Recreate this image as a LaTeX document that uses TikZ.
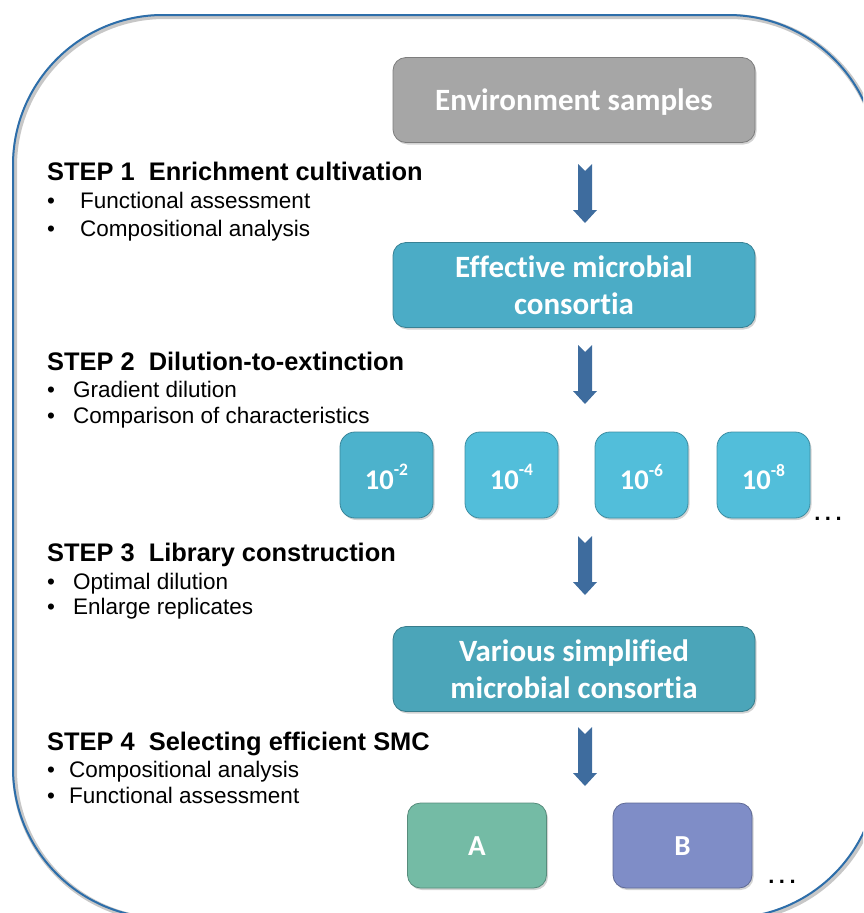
\documentclass[tikz,border=0pt]{standalone}
\usepackage{fontspec}
\setmainfont{Liberation Sans}
\newfontfamily\boxfont[Ligatures=NoCommon]{Carlito}
\usetikzlibrary{shadows}
\definecolor{framec}{RGB}{45,110,170}
\definecolor{arrowc}{RGB}{62,108,158}
\definecolor{envgray}{RGB}{166,166,166}
\definecolor{effc}{RGB}{75,172,198}
\definecolor{dilc}{RGB}{82,190,218}
\definecolor{dilfirst}{RGB}{76,178,204}
\definecolor{varc}{RGB}{75,165,185}
\definecolor{ac}{RGB}{116,187,165}
\definecolor{bc}{RGB}{127,141,199}
\tikzset{
  boxstyle/.style={rounded corners=13pt, draw=#1!75!black, line width=0.8pt, fill=#1,
    text=white, font=\boxfont\bfseries\fontsize{31}{37}\selectfont, align=center,
    inner sep=0pt, drop shadow={opacity=0.35, shadow xshift=1.5pt, shadow yshift=-2pt}},
  bigbox/.style={boxstyle=#1, minimum width=362pt, minimum height=85pt},
  dilbox/.style={boxstyle=#1, rounded corners=15pt, minimum width=93pt, minimum height=86pt,
    font=\boxfont\bfseries\fontsize{28.5}{32}\selectfont},
  selbox/.style={boxstyle=#1, minimum width=139pt, minimum height=85pt,
    font=\boxfont\bfseries\fontsize{29}{32}\selectfont},
  steptitle/.style={anchor=base west, inner sep=0pt, font=\bfseries\fontsize{25.4}{30}\selectfont},
  stepitem/.style={anchor=base west, inner sep=0pt, font=\fontsize{22.5}{27}\selectfont},
  dotsstyle/.style={anchor=base, inner sep=0pt, font=\bfseries\fontsize{22}{24}\selectfont},
  downarr/.pic={\fill[arrowc] (-7,0) -- (0,7) -- (7,0) -- (7,46) -- (12,46) -- (0,59) -- (-12,46) -- (-7,46) -- cycle;}
}
\newcommand{\dilabel}[1]{\raisebox{-2pt}[\height][\depth]{10\raisebox{0.48em}{\fontsize{17.5}{20}\selectfont #1}}}
\newcommand{\threedots}{.\hspace{4.5pt}.\hspace{4.5pt}.}
\newcommand{\lowered}[1]{\raisebox{-3.5pt}[\height][\depth]{\begin{tabular}{@{}c@{}}#1\end{tabular}}}
\begin{document}
\begin{tikzpicture}[x=1pt,y=-1pt]
\useasboundingbox (0,0) rectangle (863,913);
\begin{scope}
  \clip (0,0) rectangle (863,913);
  \draw[black!22, line width=5pt, rounded corners=150pt] (14.5,16.5) rectangle (879.5,919.5);
  \draw[framec, line width=2pt, rounded corners=150pt] (13,15) rectangle (878,918);
\end{scope}

% boxes
\node[bigbox=envgray] (env) at (574,100) {\lowered{Environment samples}};
\node[bigbox=effc] (eff) at (574,285) {\lowered{Effective microbial\\consortia}};
\node[dilbox=dilfirst] (d2) at (386.5,475) {\dilabel{-2}};
\node[dilbox=dilc] (d4) at (511.5,475) {\dilabel{-4}};
\node[dilbox=dilc] (d6) at (641.5,475) {\dilabel{-6}};
\node[dilbox=dilc] (d8) at (763.5,475) {\dilabel{-8}};
\node[dotsstyle] (dots1) at (828,520) {\threedots};
\node[bigbox=varc] (var) at (574,669) {\lowered{Various simplified\\microbial consortia}};
\node[selbox=ac] (a) at (477,845.5) {\lowered{A}};
\node[selbox=bc] (b) at (682.5,845.5) {\lowered{B}};
\node[dotsstyle] (dots2) at (782,883) {\threedots};

% arrows
\pic at (585,164) {downarr};
\pic at (585,345) {downarr};
\pic at (585,536) {downarr};
\pic at (585,727) {downarr};

% step texts
\node[steptitle] (s1) at (47,180.5) {STEP 1\ \ Enrichment cultivation};
\node[stepitem] (s1b1) at (47,208.5) {•};
\node[stepitem] (s1t1) at (80,208.5) {Functional assessment};
\node[stepitem] (s1b2) at (47,236.5) {•};
\node[stepitem] (s1t2) at (80,236.5) {Compositional analysis};

\node[steptitle] (s2) at (47,370.5) {STEP 2\ \ Dilution-to-extinction};
\node[stepitem] (s2b1) at (47,397) {•};
\node[stepitem] (s2t1) at (73,397) {Gradient dilution};
\node[stepitem] (s2b2) at (47,423) {•};
\node[stepitem] (s2t2) at (73,423) {Comparison of characteristics};

\node[steptitle] (s3) at (47,561) {STEP 3\ \ Library construction};
\node[stepitem] (s3b1) at (47,589) {•};
\node[stepitem] (s3t1) at (73,589) {Optimal dilution};
\node[stepitem] (s3b2) at (47,614) {•};
\node[stepitem] (s3t2) at (73,614) {Enlarge replicates};

\node[steptitle] (s4) at (47,750) {STEP 4\ \ Selecting efficient SMC};
\node[stepitem] (s4b1) at (47,777) {•};
\node[stepitem] (s4t1) at (69,777) {Compositional analysis};
\node[stepitem] (s4b2) at (47,803) {•};
\node[stepitem] (s4t2) at (69,803) {Functional assessment};
\end{tikzpicture}
\end{document}
